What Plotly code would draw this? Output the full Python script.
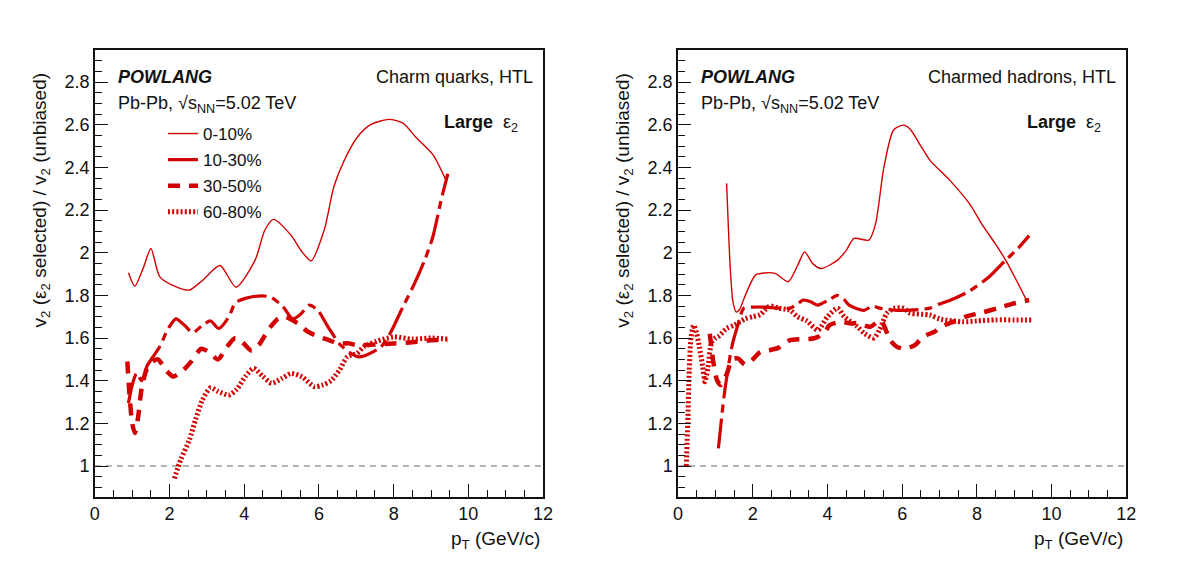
import plotly.graph_objects as go

# ---------------- data ----------------
# Left panel: Charm quarks, HTL
q_x_0_10 = [0.9, 1.07, 1.3, 1.5, 1.74, 2.18, 2.53, 2.88, 3.35, 3.78, 4.29, 4.55, 4.78, 5.26, 5.52, 5.79, 6.14, 6.4, 6.67, 7.02, 7.38, 7.88, 8.25, 8.6, 9.05, 9.4]
q_y_0_10 = [1.906, 1.843, 1.93, 2.02, 1.887, 1.84, 1.825, 1.87, 1.94, 1.838, 1.965, 2.105, 2.156, 2.08, 2.01, 1.962, 2.106, 2.31, 2.43, 2.54, 2.60, 2.625, 2.607, 2.54, 2.46, 2.34]

q_x_10_30 = [0.9, 1.0, 1.12, 1.25, 1.4, 1.55, 1.74, 1.95, 2.17, 2.4, 2.62, 2.88, 3.1, 3.32, 3.59, 3.76, 4.03, 4.47, 4.73, 5.04, 5.3, 5.5, 5.74, 5.97, 6.25, 6.58, 7.06, 7.64, 7.9, 8.25, 8.56, 8.83, 9.05, 9.27, 9.45]
q_y_10_30 = [1.295, 1.38, 1.435, 1.40, 1.47, 1.51, 1.56, 1.64, 1.69, 1.66, 1.625, 1.66, 1.68, 1.645, 1.70, 1.765, 1.786, 1.798, 1.79, 1.746, 1.69, 1.71, 1.754, 1.73, 1.65, 1.567, 1.512, 1.556, 1.62, 1.747, 1.856, 1.965, 2.075, 2.246, 2.37]

q_x_30_50 = [0.87, 0.93, 1.0, 1.07, 1.15, 1.25, 1.38, 1.55, 1.69, 1.9, 2.1, 2.37, 2.58, 2.85, 3.05, 3.3, 3.5, 3.76, 3.95, 4.2, 4.4, 4.65, 4.9, 5.08, 5.44, 5.7, 6.0, 6.27, 6.5, 6.8, 7.0, 7.5, 8.0, 8.5, 9.0, 9.45]
q_y_30_50 = [1.49, 1.33, 1.2, 1.155, 1.22, 1.36, 1.45, 1.49, 1.50, 1.45, 1.42, 1.45, 1.49, 1.55, 1.535, 1.50, 1.55, 1.60, 1.58, 1.54, 1.57, 1.64, 1.69, 1.70, 1.668, 1.63, 1.606, 1.59, 1.575, 1.575, 1.567, 1.57, 1.575, 1.58, 1.59, 1.59]

q_x_60_80 = [2.13, 2.3, 2.53, 2.7, 2.88, 3.1, 3.3, 3.59, 3.8, 4.03, 4.25, 4.5, 4.73, 5.0, 5.26, 5.55, 5.88, 6.1, 6.32, 6.55, 6.76, 7.02, 7.2, 7.55, 8.0, 8.5, 9.0, 9.45]
q_y_60_80 = [0.942, 1.03, 1.122, 1.22, 1.31, 1.367, 1.35, 1.333, 1.36, 1.42, 1.458, 1.42, 1.388, 1.41, 1.434, 1.418, 1.372, 1.38, 1.40, 1.45, 1.512, 1.528, 1.559, 1.585, 1.605, 1.595, 1.60, 1.595]

# Right panel: Charmed hadrons, HTL
h_x_0_10 = [1.3, 1.34, 1.4, 1.47, 1.56, 1.65, 1.8, 2.07, 2.3, 2.6, 2.95, 3.2, 3.39, 3.6, 3.83, 4.27, 4.5, 4.71, 5.11, 5.29, 5.51, 5.77, 6.03, 6.21, 6.5, 6.74, 7.27, 7.8, 8.15, 8.5, 8.77, 9.03, 9.35]
h_y_0_10 = [2.325, 2.15, 1.92, 1.77, 1.722, 1.735, 1.80, 1.895, 1.905, 1.903, 1.864, 1.94, 2.004, 1.95, 1.926, 1.965, 2.01, 2.067, 2.059, 2.137, 2.40, 2.575, 2.598, 2.58, 2.50, 2.434, 2.34, 2.23, 2.129, 2.04, 1.965, 1.88, 1.77]

h_x_10_30 = [1.08, 1.15, 1.23, 1.35, 1.45, 1.6, 1.76, 2.0, 2.3, 2.7, 3.0, 3.2, 3.35, 3.55, 3.74, 3.83, 4.05, 4.27, 4.45, 4.58, 4.98, 5.2, 5.4, 5.85, 6.3, 6.74, 7.0, 7.27, 7.8, 8.33, 8.77, 9.1, 9.4]
h_y_10_30 = [1.083, 1.2, 1.325, 1.47, 1.567, 1.66, 1.74, 1.745, 1.745, 1.74, 1.74, 1.76, 1.778, 1.77, 1.754, 1.76, 1.78, 1.80, 1.78, 1.754, 1.73, 1.75, 1.74, 1.73, 1.732, 1.74, 1.76, 1.776, 1.82, 1.887, 1.965, 2.02, 2.08]

h_x_30_50 = [0.85, 0.95, 1.05, 1.15, 1.3, 1.45, 1.6, 1.8, 2.0, 2.2, 2.5, 2.7, 3.0, 3.26, 3.5, 3.74, 3.96, 4.05, 4.36, 4.63, 4.8, 5.15, 5.42, 5.68, 5.85, 6.08, 6.34, 6.56, 6.87, 7.05, 7.36, 7.7, 8.15, 8.68, 8.94, 9.4]
h_y_30_50 = [1.62, 1.48, 1.40, 1.38, 1.43, 1.50, 1.505, 1.475, 1.50, 1.535, 1.545, 1.555, 1.59, 1.595, 1.595, 1.605, 1.637, 1.66, 1.676, 1.668, 1.67, 1.653, 1.684, 1.59, 1.56, 1.55, 1.567, 1.606, 1.63, 1.653, 1.676, 1.70, 1.72, 1.746, 1.76, 1.778]

h_x_60_80 = [0.22, 0.26, 0.3, 0.35, 0.42, 0.5, 0.57, 0.66, 0.72, 0.8, 0.9, 1.0, 1.1, 1.3, 1.5, 1.8, 2.0, 2.2, 2.45, 2.7, 3.0, 3.2, 3.45, 3.74, 4.0, 4.27, 4.45, 4.8, 5.0, 5.24, 5.4, 5.59, 5.8, 6.03, 6.21, 6.74, 7.0, 7.62, 8.0, 8.5, 9.0, 9.47]
h_y_60_80 = [1.0, 1.2, 1.45, 1.606, 1.66, 1.62, 1.56, 1.465, 1.395, 1.46, 1.58, 1.6, 1.61, 1.645, 1.66, 1.69, 1.70, 1.71, 1.75, 1.74, 1.73, 1.70, 1.68, 1.637, 1.70, 1.74, 1.70, 1.653, 1.62, 1.60, 1.64, 1.716, 1.74, 1.74, 1.717, 1.708, 1.69, 1.676, 1.68, 1.685, 1.685, 1.685]

centrality_labels = ["0-10%", "10-30%", "30-50%", "60-80%"]
x_tick_vals = [0, 2, 4, 6, 8, 10, 12]
x_tick_text = ["0", "2", "4", "6", "8", "10", "12"]
y_tick_vals = [1.0, 1.2, 1.4, 1.6, 1.8, 2.0, 2.2, 2.4, 2.6, 2.8]
y_tick_text = ["1", "1.2", "1.4", "1.6", "1.8", "2", "2.2", "2.4", "2.6", "2.8"]
panel_titles = ["Charm quarks, HTL", "Charmed hadrons, HTL"]

# ---------------- styling ----------------
W, H = 1182, 571
FONT = "Liberation Sans, Arial, Helvetica, sans-serif"
RED = "#d20000"
styles = [
    dict(width=1.4, dash="solid"),
    dict(width=3.2, dash="30px,6px,8px,6px"),
    dict(width=4.5, dash="12px,9px"),
    dict(width=5, dash="2px,2.2px"),
]

def px_x(p):
    return p / W

def px_y(p):
    return 1 - p / H

fig = go.Figure()

panels = [
    ("x", "y", [(q_x_0_10, q_y_0_10), (q_x_10_30, q_y_10_30), (q_x_30_50, q_y_30_50), (q_x_60_80, q_y_60_80)], True),
    ("x2", "y2", [(h_x_0_10, h_y_0_10), (h_x_10_30, h_y_10_30), (h_x_30_50, h_y_30_50), (h_x_60_80, h_y_60_80)], False),
]
for xa, ya, series, show in panels:
    for i, (xs, ys) in enumerate(series):
        fig.add_trace(go.Scatter(
            x=xs, y=ys, xaxis=xa, yaxis=ya, mode="lines",
            line=dict(color=RED, width=styles[i]["width"], dash=styles[i]["dash"],
                      shape="spline", smoothing=0.7),
            name=centrality_labels[i], showlegend=show, legendgroup=f"g{i}",
        ))

dom_y = [px_y(497), px_y(50)]
axis_common = dict(
    showline=True, mirror=True, linecolor="#111", linewidth=1.6,
    ticks="inside", ticklen=13, tickwidth=1.3, tickcolor="#111",
    showgrid=False, zeroline=False,
    tickfont=dict(family=FONT, size=18, color="#111"),
)
xcommon = dict(axis_common, range=[0, 12], tickmode="array", tickvals=x_tick_vals, ticktext=x_tick_text,
               minor=dict(dtick=0.5, tick0=0, ticks="inside", ticklen=7, tickwidth=1.3, tickcolor="#111", showgrid=False))
ycommon = dict(axis_common, range=[0.855, 2.95], tickmode="array", tickvals=y_tick_vals, ticktext=y_tick_text,
               minor=dict(dtick=0.05, tick0=0, ticks="inside", ticklen=7, tickwidth=1.3, tickcolor="#111", showgrid=False))

fig.update_layout(
    width=W, height=H, margin=dict(l=0, r=0, t=0, b=0),
    paper_bgcolor="white", plot_bgcolor="white",
    font=dict(family=FONT, color="#111"),
    xaxis=dict(xcommon, domain=[px_x(91), px_x(545)], anchor="y"),
    yaxis=dict(ycommon, domain=dom_y, anchor="x"),
    xaxis2=dict(xcommon, domain=[px_x(681.7), px_x(1135.7)], anchor="y2"),
    yaxis2=dict(ycommon, domain=dom_y, anchor="x2"),
    legend=dict(x=px_x(160), y=px_y(116), xanchor="left", yanchor="top",
                bgcolor="rgba(0,0,0,0)", font=dict(family=FONT, size=17, color="#111"),
                traceorder="grouped", tracegroupgap=1),
    showlegend=True,
)

# unity reference line
for xa, ya in [("x", "y"), ("x2", "y2")]:
    fig.add_shape(type="line", xref=f"{xa} domain", yref=ya, x0=0, x1=1, y0=1, y1=1,
                  line=dict(color="#9a9a9a", width=1.4, dash="6px,5px"), layer="below")

# text annotations
def ann(text, x, y, xanchor="left", size=18, angle=0, yanchor="middle"):
    fig.add_annotation(text=text, x=px_x(x), y=px_y(y), xref="paper", yref="paper",
                       xanchor=xanchor, yanchor=yanchor, showarrow=False, textangle=angle,
                       font=dict(family=FONT, size=size, color="#111"))

for off, title in [(0, panel_titles[0]), (590.7, panel_titles[1])]:
    ann("<b><i>POWLANG</i></b>", 112 + off, 77)
    ann("Pb-Pb, √s<sub>NN</sub>=5.02 TeV", 112 + off, 104)
    ann(title, 537 + off, 77, xanchor="right")
    ann("<b>Large</b>  ε<sub>2</sub>", 522 + off if off == 0 else 1112, 123, xanchor="right")
    ann("p<sub>T</sub> (GeV/c)", 544 + off, 540, xanchor="right", size=19)
    ann("v<sub>2</sub> (ε<sub>2</sub> selected) / v<sub>2</sub> (unbiased)", 36 + off, 200,
        xanchor="center", size=19, angle=-90)

fig.write_html("out.html")
